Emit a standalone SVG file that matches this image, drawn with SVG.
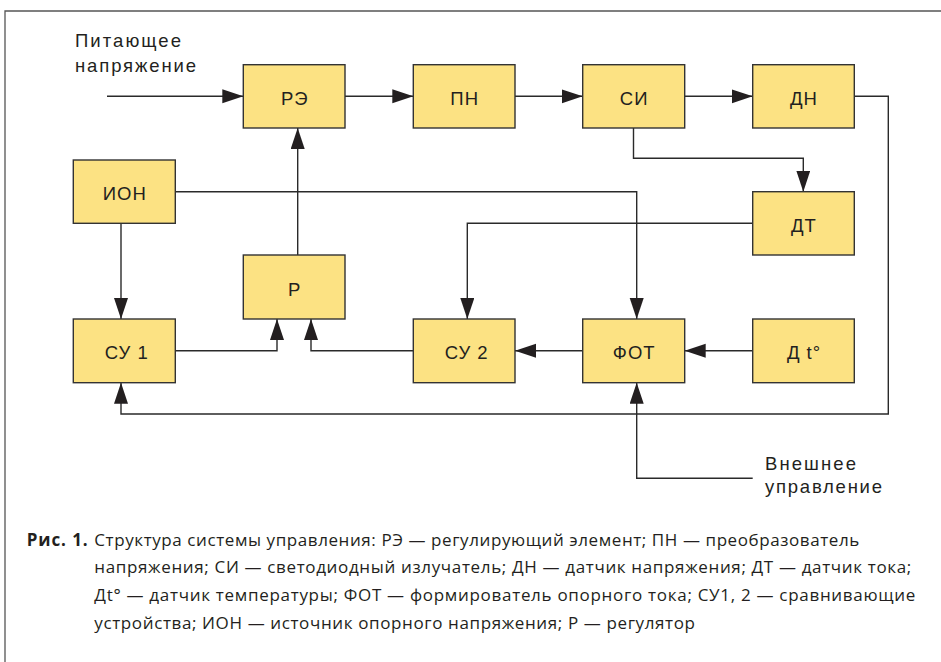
<svg xmlns="http://www.w3.org/2000/svg" width="941" height="662" viewBox="0 0 941 662">
<style>
.frame{fill:none;stroke:#555;stroke-width:1.3}
.box rect{fill:#FCE283;stroke:#333;stroke-width:1.4}
.box text{font-family:"Liberation Sans",Arial,sans-serif;font-size:18.5px;letter-spacing:1px;fill:#231f20;text-anchor:middle}
.lbl{font-family:"Liberation Sans",Arial,sans-serif;font-size:18.5px;letter-spacing:1px;fill:#231f20}
#connectors path{fill:none;stroke:#2a2a2a;stroke-width:1.4}
.cap{font-family:"Open Sans","Noto Sans",sans-serif;font-size:17px;fill:#231f20}
.capb{font-family:"Open Sans","Noto Sans",sans-serif;font-size:17px;font-weight:bold;fill:#231f20}
</style>
<defs>
<marker id="ah" markerUnits="userSpaceOnUse" markerWidth="22" markerHeight="15" refX="21" refY="7" orient="auto">
<path d="M0,0 L21,7 L0,14 z" fill="#231f20"/>
</marker>
</defs>
<rect width="941" height="662" fill="#fff"/>
<path class="frame" d="M5,662 V11 H941"/>

<text class="lbl" x="75" y="46.7" textLength="107">Питающее</text>
<text class="lbl" x="75" y="71.7" textLength="122">напряжение</text>
<text class="lbl" x="765" y="470" textLength="92">Внешнее</text>
<text class="lbl" x="765" y="493.3" textLength="118">управление</text>

<g id="connectors">
<path d="M107,96.3 H243.3" marker-end="url(#ah)"/>
<path d="M345,96.3 H413.3" marker-end="url(#ah)"/>
<path d="M515,96.3 H582.7" marker-end="url(#ah)"/>
<path d="M684.7,96.3 H752.7" marker-end="url(#ah)"/>
<path d="M854.3,96.3 H888.3 V414 H121 V382.7" marker-end="url(#ah)"/>
<path d="M633.5,128 V158.3 H803.3 V191.7" marker-end="url(#ah)"/>
<path d="M175.3,191.7 H636.7 V319" marker-end="url(#ah)"/>
<path d="M121,223.3 V319" marker-end="url(#ah)"/>
<path d="M752.7,223.3 H467.3 V319" marker-end="url(#ah)"/>
<path d="M297.7,255 V128" marker-end="url(#ah)"/>
<path d="M175.3,350.7 H277 V319" marker-end="url(#ah)"/>
<path d="M413.3,350.7 H311 V319" marker-end="url(#ah)"/>
<path d="M582.7,350.7 H515" marker-end="url(#ah)"/>
<path d="M752.7,350.7 H684.7" marker-end="url(#ah)"/>
<path d="M752.7,478.3 H636.7 V382.7" marker-end="url(#ah)"/>
</g>

<g id="re" class="box"><rect x="243.3" y="64.7" width="101.7" height="63.3"/><text x="294.7" y="105">РЭ</text></g>
<g id="pn" class="box"><rect x="413.3" y="64.7" width="101.7" height="63.3"/><text x="464.7" y="105">ПН</text></g>
<g id="si" class="box"><rect x="582.7" y="64.7" width="102" height="63.3"/><text x="634.2" y="105">СИ</text></g>
<g id="dn" class="box"><rect x="752.7" y="64.7" width="101.6" height="63.3"/><text x="804" y="105">ДН</text></g>
<g id="ion" class="box"><rect x="73.3" y="160" width="102" height="63.3"/><text x="124.8" y="200">ИОН</text></g>
<g id="dt" class="box"><rect x="752.7" y="191.7" width="101.6" height="63.3"/><text x="804" y="231.7">ДТ</text></g>
<g id="r" class="box"><rect x="243.3" y="255" width="101.7" height="64"/><text x="294.7" y="295.5">Р</text></g>
<g id="su1" class="box"><rect x="73.3" y="319" width="102" height="63.7"/><text x="126.8" y="359.3">СУ 1</text></g>
<g id="su2" class="box"><rect x="413.3" y="319" width="101.7" height="63.7"/><text x="466.7" y="359.3">СУ 2</text></g>
<g id="fot" class="box"><rect x="582.7" y="319" width="102" height="63.7"/><text x="634.2" y="359.3">ФОТ</text></g>
<g id="dtemp" class="box"><rect x="752.7" y="319" width="101.6" height="63.7"/><text x="804" y="359.3">Д t°</text></g>

<text class="capb" x="26.7" y="545.5" textLength="61">Рис. 1.</text>
<text class="cap" x="94.3" y="545.5" textLength="765">Структура системы управления: РЭ — регулирующий элемент; ПН — преобразователь</text>
<text class="cap" x="94.3" y="573" textLength="817">напряжения; СИ — светодиодный излучатель; ДН — датчик напряжения; ДТ — датчик тока;</text>
<text class="cap" x="94.3" y="600.8" textLength="821">Дt° — датчик температуры; ФОТ — формирователь опорного тока; СУ1, 2 — сравнивающие</text>
<text class="cap" x="94.3" y="628.5" textLength="600.7">устройства; ИОН — источник опорного напряжения; Р — регулятор</text>
</svg>
